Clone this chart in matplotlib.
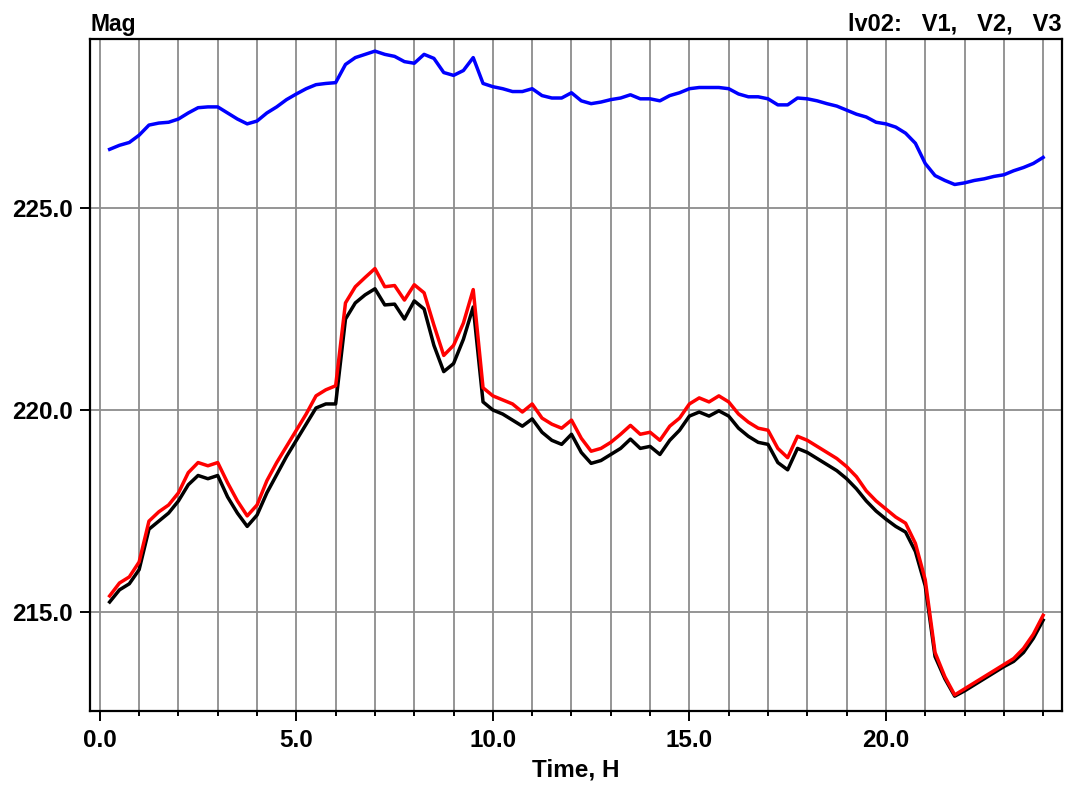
import matplotlib
matplotlib.use("Agg")
import matplotlib.pyplot as plt
from matplotlib.ticker import MultipleLocator, FormatStrFormatter

hours = [0.25 * (i + 1) for i in range(96)]

v1 = [226.45, 226.55, 226.62, 226.80, 227.05, 227.10, 227.12, 227.20,
      227.35, 227.48, 227.50, 227.50, 227.35, 227.20, 227.08, 227.15,
      227.35, 227.50, 227.68, 227.82, 227.95, 228.05, 228.08, 228.10,
      228.55, 228.72, 228.80, 228.88, 228.80, 228.75, 228.62, 228.58,
      228.80, 228.70, 228.35, 228.28, 228.40, 228.72, 228.08, 228.00,
      227.95, 227.88, 227.88, 227.95, 227.78, 227.72, 227.72, 227.85,
      227.65, 227.58, 227.62, 227.68, 227.72, 227.80, 227.70, 227.70,
      227.65, 227.78, 227.85, 227.95, 227.98, 227.98, 227.98, 227.95,
      227.82, 227.75, 227.75, 227.70, 227.55, 227.55, 227.72, 227.70,
      227.65, 227.58, 227.52, 227.42, 227.32, 227.25, 227.12, 227.08,
      227.00, 226.85, 226.60, 226.10, 225.80, 225.68, 225.58, 225.62,
      225.68, 225.72, 225.78, 225.82, 225.92, 226.00, 226.10, 226.25]

v2 = [215.40, 215.72, 215.87, 216.24, 217.25, 217.48, 217.65, 217.95,
      218.45, 218.70, 218.62, 218.70, 218.20, 217.75, 217.38, 217.65,
      218.25, 218.70, 219.10, 219.50, 219.90, 220.35, 220.50, 220.60,
      222.65, 223.05, 223.28, 223.50, 223.05, 223.08, 222.72, 223.10,
      222.90, 222.10, 221.35, 221.60, 222.15, 222.98, 220.55, 220.35,
      220.25, 220.15, 219.95, 220.15, 219.80, 219.65, 219.55, 219.75,
      219.30, 218.98, 219.05, 219.20, 219.40, 219.62, 219.40, 219.45,
      219.25, 219.60, 219.80, 220.15, 220.30, 220.20, 220.35, 220.20,
      219.90, 219.70, 219.55, 219.50, 219.05, 218.82, 219.35, 219.25,
      219.10, 218.95, 218.80, 218.60, 218.35, 218.00, 217.75, 217.55,
      217.35, 217.20, 216.70, 215.80, 214.00, 213.40, 212.95, 213.10,
      213.25, 213.40, 213.55, 213.70, 213.85, 214.10, 214.45, 214.92]

v3 = [215.25, 215.55, 215.70, 216.05, 217.05, 217.25, 217.45, 217.75,
      218.15, 218.38, 218.30, 218.38, 217.85, 217.45, 217.12, 217.40,
      217.95, 218.40, 218.85, 219.25, 219.65, 220.05, 220.15, 220.15,
      222.25, 222.65, 222.85, 223.00, 222.60, 222.62, 222.25, 222.70,
      222.50, 221.60, 220.95, 221.15, 221.75, 222.55, 220.20, 220.00,
      219.90, 219.75, 219.60, 219.78, 219.45, 219.25, 219.15, 219.40,
      218.95, 218.68, 218.75, 218.90, 219.05, 219.28, 219.05, 219.10,
      218.90, 219.25, 219.50, 219.85, 219.95, 219.85, 219.98, 219.85,
      219.55, 219.35, 219.20, 219.15, 218.70, 218.52, 219.05, 218.95,
      218.80, 218.65, 218.50, 218.30, 218.05, 217.75, 217.50, 217.30,
      217.12, 216.98, 216.50, 215.65, 213.90, 213.35, 212.92, 213.05,
      213.20, 213.35, 213.50, 213.65, 213.78, 214.00, 214.35, 214.80]

plt.rcParams['font.family'] = ['Liberation Sans', 'DejaVu Sans']
plt.rcParams['font.weight'] = 'bold'

fig = plt.figure(figsize=(10.7, 7.9), dpi=100)
ax = fig.add_axes([90 / 1070, 1 - 710.7 / 790, (1062 - 90) / 1070, (710.7 - 39) / 790])

ax.plot(hours, v1, color='#0000ff', lw=2.5, zorder=3)
ax.plot(hours, v3, color='#000000', lw=2.5, zorder=3)
ax.plot(hours, v2, color='#ff0000', lw=2.5, zorder=4)

ax.set_xlim(-0.25, 24.48)
ax.set_ylim(212.56, 229.18)

ax.xaxis.set_major_locator(MultipleLocator(5))
ax.xaxis.set_minor_locator(MultipleLocator(1))
ax.xaxis.set_major_formatter(FormatStrFormatter('%.1f'))
ax.yaxis.set_major_locator(MultipleLocator(5))
ax.yaxis.set_major_formatter(FormatStrFormatter('%.1f'))

ax.grid(True, which='both', axis='x', color='#8c8c8c', lw=1.3, zorder=1)
ax.grid(True, which='major', axis='y', color='#8c8c8c', lw=1.3, zorder=1)

ax.tick_params(axis='x', which='major', length=7.5, width=1.4, labelsize=17.5, pad=6)
ax.tick_params(axis='x', which='minor', length=3.8, width=1.4)
ax.tick_params(axis='y', which='major', length=7.5, width=1.4, labelsize=17.5, pad=5)
for lab in ax.get_xticklabels() + ax.get_yticklabels():
    lab.set_fontweight('bold')

for s in ax.spines.values():
    s.set_linewidth(1.6)
    s.set_color('black')

ax.set_xlabel('Time, H', fontsize=17.5, fontweight='bold', labelpad=4)

fig.text(90 / 1070, 1 - 31 / 790, 'Mag', fontsize=16.5, fontweight='bold',
         ha='left', va='baseline')
fig.text(1062 / 1070, 1 - 31 / 790, 'lv02:   V1,   V2,   V3', fontsize=17,
         fontweight='bold', ha='right', va='baseline')

fig.savefig('out.png', dpi=100)
